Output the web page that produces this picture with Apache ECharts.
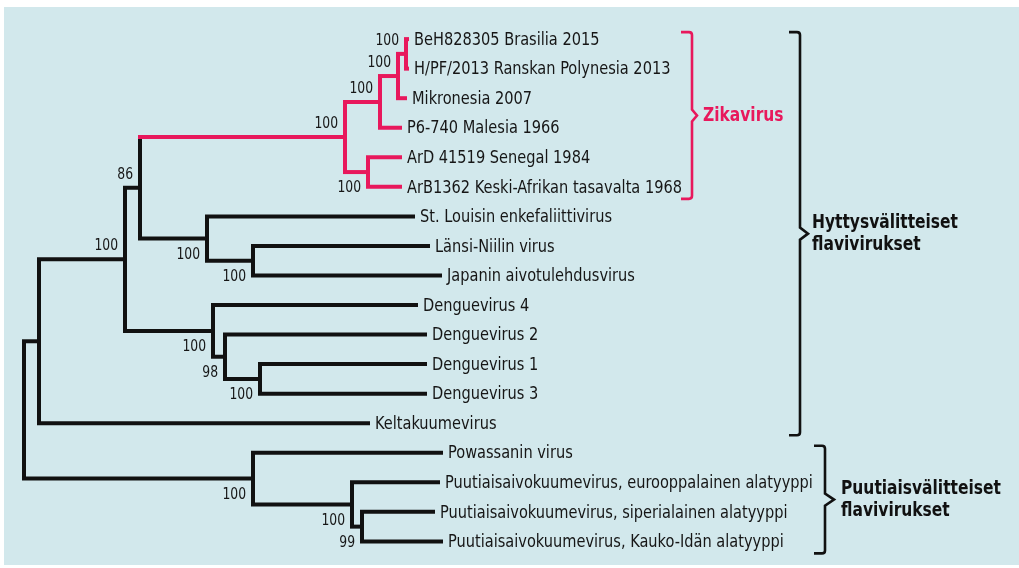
<!DOCTYPE html>
<html>
<head>
<meta charset="utf-8">
<title>Flavivirusten sukupuu</title>
<script src="https://cdn.jsdelivr.net/npm/echarts@6/dist/echarts.min.js"></script>
<style>
html, body { margin: 0; padding: 0; background: #fff; }
#chart { width: 1019px; height: 568px; }
</style>
</head>
<body>
<div id="chart"></div>
<script>
// lehdet ylhäältä alas
var leafNames = [
	'BeH828305 Brasilia 2015',
	'H/PF/2013 Ranskan Polynesia 2013',
	'Mikronesia 2007',
	'P6-740 Malesia 1966',
	'ArD 41519 Senegal 1984',
	'ArB1362 Keski-Afrikan tasavalta 1968',
	'St. Louisin enkefaliittivirus',
	'Länsi-Niilin virus',
	'Japanin aivotulehdusvirus',
	'Denguevirus 4',
	'Denguevirus 2',
	'Denguevirus 1',
	'Denguevirus 3',
	'Keltakuumevirus',
	'Powassanin virus',
	'Puutiaisaivokuumevirus, eurooppalainen alatyyppi',
	'Puutiaisaivokuumevirus, siperialainen alatyyppi',
	'Puutiaisaivokuumevirus, Kauko-Idän alatyyppi'
];
// lehden etäisyys juuresta
var leafTip = [385, 385, 383, 378, 378, 378, 391, 406, 418, 394, 403, 403, 403, 346, 419, 416, 411, 419];

// sisäsolmut: id, etäisyys juuresta, lapset, bootstrap-arvo
var cladeIds     = ['root', 'M', 'A', 'B', 'Z', 'Z1', 'Z11', 'Z111', 'Z2', 'F', 'J', 'D', 'D2', 'D3', 'T', 'T2', 'T3'];
var cladeDepth   = [0, 15, 101, 116, 321, 356, 374, 382, 344, 183, 229, 189, 201, 236, 229, 328, 338];
var cladeKids    = [['M', 'T'], ['A', 13], ['B', 'D'], ['Z', 'F'], ['Z1', 'Z2'], ['Z11', 3], ['Z111', 2], [0, 1], [4, 5],
                    [6, 'J'], [7, 8], [9, 'D2'], [10, 'D3'], [11, 12], [14, 'T2'], [15, 'T3'], [16, 17]];
var cladeSupport = [null, null, 100, 86, 100, 100, 100, 100, 100, 100, 100, 100, 98, 100, 100, 100, 99];

// ryhmät (hakasulkeet)
var groupNames = ['Zikavirus', 'Hyttysvälitteiset\nflavivirukset', 'Puutiaisvälitteiset\nflavivirukset'];
var groupFirst = [0, 0, 14];
var groupLast  = [5, 13, 17];

// ---- tyylit ----
var PINK = '#e8185c';
var INK = '#111111';
var NARROW = "'DejaVu Sans Condensed', 'DejaVu Sans', sans-serif";
var supportBelow = ['Z2', 'F', 'J', 'D', 'D2', 'D3', 'T', 'T2', 'T3'];
var bracketStyle = [
	{ x: 692, color: PINK, point: 5, gap: 6 },
	{ x: 800, color: INK, point: 8, gap: 4 },
	{ x: 825, color: INK, point: 9, gap: 7 }
];

function cladeIndex(id) { return cladeIds.indexOf(id); }
function nodeY(id) {
	if (typeof id === 'number') return id;
	var k = cladeKids[cladeIndex(id)];
	return (nodeY(k[0]) + nodeY(k[k.length - 1])) / 2;
}
function nodeDepth(id) {
	return typeof id === 'number' ? leafTip[id] : cladeDepth[cladeIndex(id)];
}

// Zika-haara punaisella
var zikaSet = {};
function markZika(id) {
	zikaSet[id] = true;
	if (typeof id !== 'number') cladeKids[cladeIndex(id)].forEach(markZika);
}
markZika('Z');
function colorOf(id) { return zikaSet[id] ? 1 : 0; }

// viivat: [x1, y1, x2, y2, väri, pystyviiva?]
var edgeData = [];
cladeIds.forEach(function (id, i) {
	var kids = cladeKids[i];
	var d = cladeDepth[i];
	edgeData.push([d, nodeY(kids[0]), d, nodeY(kids[kids.length - 1]), colorOf(id), 1]);
});
cladeIds.forEach(function (id, i) {
	var d = cladeDepth[i];
	cladeKids[i].forEach(function (k) {
		edgeData.push([d, nodeY(k), nodeDepth(k), nodeY(k), colorOf(k), 0]);
	});
});

var leafData = leafNames.map(function (n, i) { return [leafTip[i], i]; });

var supportData = [];
cladeIds.forEach(function (id, i) {
	if (cladeSupport[i] == null) return;
	supportData.push([cladeDepth[i], nodeY(id), cladeSupport[i], supportBelow.indexOf(id) >= 0 ? 1 : 0]);
});

var groupData = groupNames.map(function (n, i) { return [groupFirst[i], groupLast[i]]; });

var myChart = echarts.init(document.getElementById('chart'));

var option = {
	animation: false,
	backgroundColor: '#ffffff',
	graphic: [{
		type: 'rect',
		z: -10,
		shape: { x: 4, y: 7, width: 1015, height: 558 },
		style: { fill: '#d2e8ec' }
	}],
	grid: { left: 24, right: 0, top: 39.1, bottom: 26.6 },
	xAxis: { type: 'value', min: 0, max: 995, show: false },
	yAxis: { type: 'value', min: 0, max: 17, inverse: true, show: false },
	series: [
		{
			// oksat
			type: 'custom',
			data: edgeData,
			renderItem: function (params, api) {
				var p1 = api.coord([api.value(0), api.value(1)]);
				var p2 = api.coord([api.value(2), api.value(3)]);
				var vertical = api.value(5) === 1;
				var x1 = vertical ? p1[0] : p1[0] - 2;
				return {
					type: 'line',
					z2: vertical ? 1 : 2,
					shape: { x1: x1, y1: p1[1], x2: p2[0], y2: p2[1] },
					style: { stroke: api.value(4) ? PINK : INK, lineWidth: 4, lineCap: 'butt' }
				};
			}
		},
		{
			// lehtien nimet
			type: 'custom',
			data: leafData,
			renderItem: function (params, api) {
				var p = api.coord([api.value(0), api.value(1)]);
				return {
					type: 'text',
					x: p[0] + 5,
					y: p[1] + 1,
					scaleX: 0.9,
					style: {
						text: leafNames[params.dataIndex],
						fill: '#161616',
						font: '18px ' + NARROW,
						align: 'left',
						verticalAlign: 'middle'
					}
				};
			}
		},
		{
			// bootstrap-arvot
			type: 'custom',
			data: supportData,
			renderItem: function (params, api) {
				var p = api.coord([api.value(0), api.value(1)]);
				var below = api.value(3) === 1;
				return {
					type: 'text',
					x: p[0] - 7,
					y: p[1] + (below ? 16 : -13),
					scaleX: 0.86,
					style: {
						text: String(api.value(2)),
						fill: '#161616',
						font: '16px ' + NARROW,
						align: 'right',
						verticalAlign: 'middle'
					}
				};
			}
		},
		{
			// hakasulkeet ja ryhmien nimet
			type: 'custom',
			data: groupData,
			renderItem: function (params, api) {
				var s = bracketStyle[params.dataIndex];
				var top = api.coord([0, api.value(0)])[1] - 7;
				var bottom = api.coord([0, api.value(1)])[1] + 12;
				var mid = (top + bottom) / 2;
				var x = s.x, r = 3, arm = 11, h = 6;
				var path = 'M' + (x - arm) + ' ' + top +
					' L' + (x - r) + ' ' + top +
					' Q' + x + ' ' + top + ' ' + x + ' ' + (top + r) +
					' L' + x + ' ' + (mid - h) +
					' L' + (x + s.point) + ' ' + mid +
					' L' + x + ' ' + (mid + h) +
					' L' + x + ' ' + (bottom - r) +
					' Q' + x + ' ' + bottom + ' ' + (x - r) + ' ' + bottom +
					' L' + (x - arm) + ' ' + bottom;
				return {
					type: 'group',
					children: [{
						type: 'path',
						shape: { pathData: path },
						style: { fill: 'none', stroke: s.color, lineWidth: 2.6 }
					}, {
						type: 'text',
						x: x + s.point + s.gap,
						y: mid,
						scaleX: 0.86,
						style: {
							text: groupNames[params.dataIndex],
							fill: s.color,
							font: 'bold 20px ' + NARROW,
							lineHeight: 22,
							align: 'left',
							verticalAlign: 'middle'
						}
					}]
				};
			}
		}
	]
};
myChart.setOption(option);
</script>
</body>
</html>
